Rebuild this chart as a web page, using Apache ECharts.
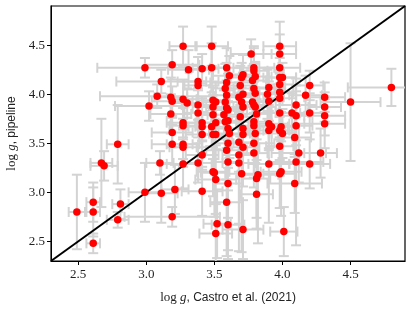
<!DOCTYPE html>
<html><head><meta charset="utf-8">
<script src="https://cdn.jsdelivr.net/npm/echarts@6/dist/echarts.min.js"></script>
<style>html,body{margin:0;padding:0;background:#fff}#c{width:412px;height:309px}</style>
</head><body><div id="c"></div>
<script>
// Castro et al. (2021) log g (x) vs pipeline log g (y), with errors
const loggCastro = [2.49,2.61,2.61,2.61,2.67,2.69,2.79,2.81,2.79,2.99,3.10,3.11,3.21,3.19,3.19,3.27,3.27,3.27,3.38,3.41,3.41,3.19,3.41,3.49,3.51,3.49,3.50,3.51,3.59,3.52,3.51,3.60,3.60,3.59,3.60,
3.27,3.48,2.99,3.19,3.31,3.41,3.48,3.59,3.11,3.08,3.02,3.18,3.19,3.27,3.30,3.38,3.38,3.49,3.51,3.49,3.38,3.38,3.18,3.27,3.27,3.41,3.41,3.48,3.51,3.59,3.58,3.59,3.58,3.59,3.57,3.58,3.61,
3.98,3.77,3.98,3.71,3.70,3.79,3.79,3.80,3.98,3.98,4.00,3.69,3.78,3.79,3.90,3.98,4.20,4.17,4.31,4.50,4.80,3.71,3.68,3.80,3.89,3.98,3.98,3.90,3.70,3.71,3.78,3.79,3.80,4.10,4.31,4.20,4.10,4.31,3.81,3.69,3.98,3.60,3.79,3.79,3.90,3.92,3.99,4.10,4.31,3.60,3.71,3.61,3.71,3.80,4.09,4.00,3.90,3.98,
3.68,3.71,3.79,3.98,3.68,3.79,4.12,4.28,3.60,3.68,3.90,4.10,4.20,3.70,3.82,3.81,3.98,3.99,4.09,3.81,3.71,4.01,3.49,3.60,4.07];
const loggPipeline = [2.80,2.90,2.80,2.48,3.30,3.27,3.49,2.88,2.72,3.00,3.30,2.99,3.03,2.75,3.49,3.49,3.46,3.29,3.30,3.38,3.01,3.61,3.59,3.59,3.59,3.21,3.20,3.13,2.90,2.68,2.58,2.67,3.09,3.43,3.50,
4.49,4.49,4.27,4.30,4.25,4.26,4.27,4.27,4.13,3.98,3.88,3.97,3.93,3.95,3.91,4.13,4.09,3.94,3.92,3.87,3.89,3.81,3.80,3.71,3.68,3.71,3.67,3.67,3.71,4.12,4.06,3.99,3.92,3.86,3.79,3.72,4.19,
4.49,4.41,4.41,4.20,4.17,4.27,4.24,4.18,4.27,4.17,4.17,4.09,4.14,4.06,4.07,4.10,4.09,3.99,3.97,3.92,4.07,4.00,3.97,4.01,4.00,4.02,3.96,3.93,3.92,3.87,3.92,3.89,3.87,3.89,3.87,3.81,3.78,3.78,3.80,3.77,3.81,3.73,3.72,3.68,3.70,3.67,3.67,3.68,3.70,3.65,3.65,3.60,3.59,3.60,3.56,3.60,3.63,3.63,
3.51,3.46,3.50,3.47,3.38,3.40,3.40,3.40,3.31,3.30,3.29,3.31,3.29,3.19,3.18,3.14,3.19,3.21,3.09,2.98,2.62,2.60,3.79,3.84,3.81];
const errCastro = [0.06,0.05,0.05,0.05,0.08,0.10,0.08,0.06,0.08,0.12,0.10,0.12,0.10,0.35,0.15,0.12,0.10,0.12,0.10,0.12,0.15,0.15,0.12,0.10,0.12,0.12,0.10,0.15,0.12,0.10,0.12,0.12,0.10,0.15,0.10,
0.10,0.12,0.35,0.20,0.15,0.12,0.10,0.12,0.33,0.42,0.25,0.12,0.15,0.10,0.12,0.15,0.10,0.12,0.10,0.15,0.12,0.10,0.15,0.12,0.10,0.12,0.10,0.12,0.15,0.12,0.10,0.12,0.10,0.15,0.12,0.10,0.12,
0.12,0.15,0.12,0.10,0.12,0.15,0.10,0.12,0.15,0.12,0.10,0.12,0.10,0.15,0.12,0.10,0.10,0.12,0.15,0.22,0.32,0.12,0.10,0.15,0.12,0.10,0.12,0.10,0.12,0.15,0.10,0.12,0.10,0.15,0.12,0.10,0.12,0.15,0.10,0.12,0.15,0.10,0.12,0.10,0.15,0.12,0.10,0.12,0.15,0.10,0.12,0.15,0.10,0.12,0.12,0.10,0.15,0.12,
0.10,0.12,0.15,0.10,0.12,0.10,0.20,0.12,0.10,0.12,0.15,0.20,0.15,0.12,0.15,0.10,0.12,0.15,0.20,0.12,0.15,0.10,0.12,0.10,0.12];
const errPipeline = [0.38,0.20,0.25,0.10,0.45,0.15,0.40,0.15,0.08,0.30,0.12,0.30,0.25,0.10,0.20,0.15,0.20,0.25,0.20,0.15,0.25,0.15,0.20,0.25,0.15,0.25,0.45,0.35,0.55,0.35,0.30,0.35,0.35,0.30,0.25,
0.20,0.20,0.10,0.15,0.20,0.15,0.25,0.20,0.12,0.12,0.15,0.20,0.15,0.20,0.15,0.25,0.20,0.15,0.20,0.20,0.15,0.25,0.20,0.15,0.20,0.25,0.15,0.20,0.15,0.20,0.25,0.15,0.20,0.20,0.25,0.15,0.20,
0.25,0.15,0.20,0.20,0.15,0.20,0.25,0.15,0.20,0.20,0.15,0.20,0.15,0.25,0.20,0.15,0.15,0.20,0.15,0.60,0.19,0.20,0.15,0.20,0.25,0.20,0.15,0.20,0.15,0.25,0.20,0.15,0.20,0.20,0.15,0.20,0.25,0.20,0.15,0.20,0.25,0.20,0.15,0.20,0.25,0.20,0.15,0.20,0.25,0.20,0.15,0.25,0.20,0.30,0.20,0.25,0.20,0.30,
0.30,0.40,0.35,0.30,0.70,0.35,0.30,0.25,0.90,0.90,0.60,0.85,0.25,0.80,0.70,0.40,0.35,0.45,0.30,0.35,0.30,0.25,0.20,0.20,0.20];
const axisRange = [2.3, 4.9];
const tickValues = [2.5, 3.0, 3.5, 4.0, 4.5];

const chart = echarts.init(document.getElementById('c'), null, {renderer: 'canvas'});
const n = Math.min(loggCastro.length, loggPipeline.length, errCastro.length, errPipeline.length);
const errData = [], ptData = [];
for (let i = 0; i < n; i++) {
  errData.push([loggCastro[i], loggPipeline[i], errCastro[i], errPipeline[i]]);
  ptData.push([loggCastro[i], loggPipeline[i]]);
}
const GREY = '#d3d3d3';
function renderErr(params, api) {
  const x = api.value(0), y = api.value(1), xe = api.value(2), ye = api.value(3);
  const l = api.coord([x - xe, y]), r = api.coord([x + xe, y]);
  const t = api.coord([x, y + ye]), b = api.coord([x, y - ye]);
  const cap = 5;
  const st = {stroke: GREY, lineWidth: 2, fill: null};
  const seg = (x1,y1,x2,y2) => ({type:'line', shape:{x1,y1,x2,y2}, style: st});
  return {type:'group', children:[
    seg(l[0], l[1], r[0], r[1]),
    seg(l[0], l[1]-cap, l[0], l[1]+cap),
    seg(r[0], r[1]-cap, r[0], r[1]+cap),
    seg(t[0], t[1], b[0], b[1]),
    seg(t[0]-cap, t[1], t[0]+cap, t[1]),
    seg(b[0]-cap, b[1], b[0]+cap, b[1])
  ]};
}
const tickLabel = {customValues: tickValues, fontFamily: 'Liberation Serif', fontSize: 13, color: '#222', formatter: v => v.toFixed(1)};
const axisCommon = {
  type: 'value', min: axisRange[0], max: axisRange[1],
  splitLine: {show: false},
  axisLine: {show: true, lineStyle: {color: '#000', width: 1}},
  axisTick: {show: true, customValues: tickValues, length: 4, lineStyle: {color: '#000', width: 1}},
  axisLabel: tickLabel,
  nameLocation: 'middle',
  nameTextStyle: {color: '#222', rich: {
    s: {fontFamily: 'Liberation Serif', fontSize: 13, color: '#222'},
    i: {fontFamily: 'Liberation Serif', fontStyle: 'italic', fontSize: 13, color: '#222'},
    t: {fontFamily: 'Liberation Sans', fontSize: 12, color: '#222'}
  }}
};
chart.setOption({
  animation: false,
  backgroundColor: '#fff',
  grid: {left: 51, right: 7, top: 6, bottom: 48, show: true, borderColor: '#000', borderWidth: 1.2, containLabel: false, outerBoundsMode: 'none'},
  xAxis: Object.assign({}, axisCommon, {name: '{s|log }{i|g}{t|, Castro et al. (2021)}', nameGap: 30, axisLabel: Object.assign({}, tickLabel, {margin: 7})}),
  yAxis: Object.assign({}, axisCommon, {name: '{s|log }{i|g}{t|, pipeline}', nameGap: 31, axisLabel: Object.assign({}, tickLabel, {margin: 6})}),
  series: [
    {type: 'custom', renderItem: renderErr, data: errData, encode: {x: 0, y: 1}, clip: true, z: 1, silent: true},
    {type: 'line', data: [[axisRange[0], axisRange[0]], [axisRange[1], axisRange[1]]], symbol: 'none', lineStyle: {color: '#000', width: 2}, z: 2, silent: true},
    {type: 'scatter', data: ptData, symbolSize: 7.5, itemStyle: {color: '#ff0000', opacity: 1}, z: 3, silent: true}
  ]
});
</script></body></html>
